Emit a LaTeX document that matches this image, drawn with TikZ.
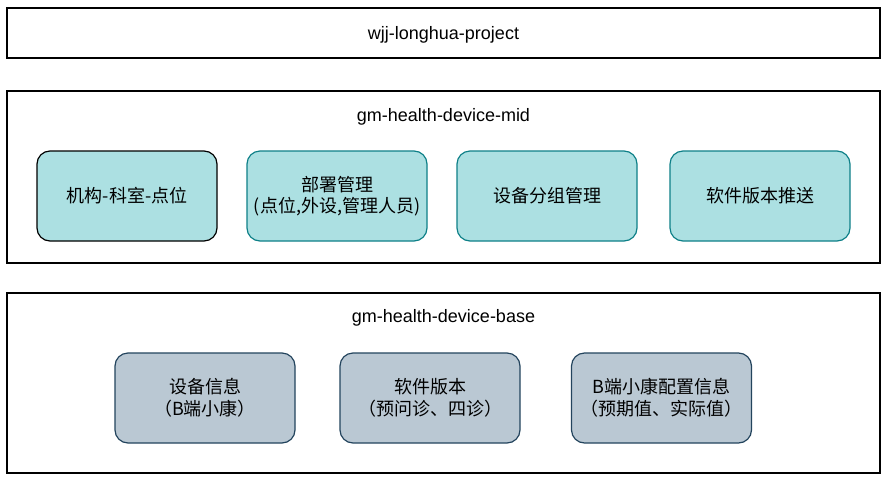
\documentclass[tikz,border=0pt]{standalone}
\usepackage{fontspec}
\setmainfont{Liberation Sans}
\newfontfamily\cjk{Noto Sans CJK SC}
\usetikzlibrary{positioning}
\definecolor{tealfill}{HTML}{ACE0E2}
\definecolor{tealline}{HTML}{0E8088}
\definecolor{slatefill}{HTML}{BAC8D3}
\definecolor{slateline}{HTML}{23445D}
\tikzset{
  frame/.style={draw=black, line width=1.1pt, fill=white, inner sep=0pt},
  title/.style={font=\fontsize{18}{21.6}\selectfont, inner sep=0pt},
  midbox/.style={draw=tealline, fill=tealfill, line width=1.2pt, rounded corners=13pt,
    minimum width=180pt, minimum height=90pt, align=center, inner sep=0pt,
    font=\cjk\fontsize{18}{21.6}\selectfont},
  basebox/.style={midbox, draw=slateline, fill=slatefill}
}
\begin{document}
\begin{tikzpicture}[x=1pt, y=-1pt]
				% Frame and outer boxes:
				\useasboundingbox (0,0) rectangle (888,482);
				\node[frame, minimum width=873pt, minimum height=50pt] (project) at (443.5,33) {};
				\node[title] (projecttitle) at (443.5,35) {wjj-longhua-project};
				\node[frame, minimum width=873pt, minimum height=172pt] (mid) at (443.5,177) {};
				\node[title] (midtitle) at (443.5,117) {gm-health-device-mid};
				\node[frame, minimum width=873pt, minimum height=180pt] (base) at (443.5,383) {};
				\node[title] (basetitle) at (443.5,318) {gm-health-device-base};
				% Modules of gm-health-device-mid:
				\node[midbox, draw=black] (org) at (127,196) {机构-科室-点位};
				\node[midbox] (deploy) at (337,196) {部署管理\\(点位,外设,管理人员)};
				\node[midbox] (group) at (547,196) {设备分组管理};
				\node[midbox] (push) at (760,196) {软件版本推送};
				% Modules of gm-health-device-base:
				\node[basebox] (devinfo) at (205,398) {设备信息\\（B端小康）};
				\node[basebox] (softver) at (430,398) {软件版本\\（预问诊、四诊）};
				\node[basebox] (config) at (661.5,398) {B端小康配置信息\\（预期值、实际值）};
\end{tikzpicture}
\end{document}
